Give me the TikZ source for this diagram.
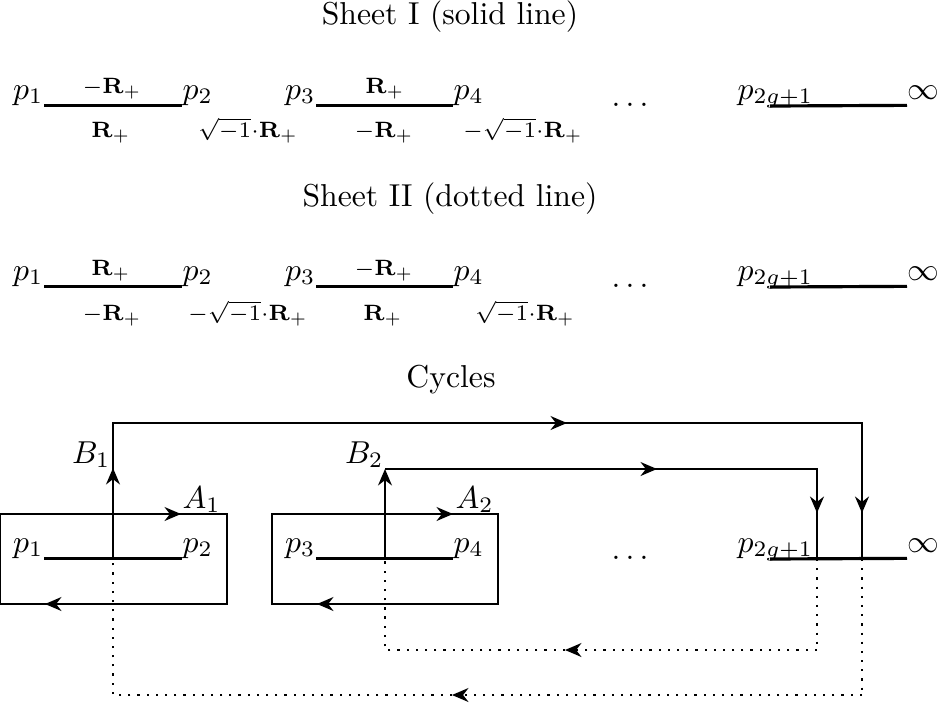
\documentclass[tikz,border=0pt]{standalone}
\usetikzlibrary{arrows.meta}

\begin{document}
\begin{tikzpicture}[
			x=0.0111cm, y=-0.0111cm,
			pt/.style={inner sep=0pt},
			lab/.style={inner sep=0pt, anchor=base},
			cut/.style={line width=1pt},
			cyc/.style={line width=0.65pt},
			tip/.style={-{Stealth[length=5.2pt, width=4.4pt, inset=1.7pt]}},
			arr/.style={cyc, tip},
			boxline/.style={line width=0.5pt},
			back/.style={cyc, dash pattern=on 0.7pt off 2.2pt}
		]
			\useasboundingbox (0,0) rectangle (941,707);

			% titles
			\node[lab] (sheetI) at (450,24) {Sheet I (solid line)};
			\node[lab] (sheetII) at (450,206) {Sheet II (dotted line)};
			\node[lab] (cycles) at (451,387) {Cycles};

			% branch points and cuts, one row per picture
			\foreach \r/\y in {I/106, II/287, C/559} {
				\node[pt, anchor=base east] (p1\r) at (44,\y-7) {$p_1$};
				\node[pt, anchor=base west] (p2\r) at (182,\y-7) {$p_2$};
				\node[pt, anchor=base east] (p3\r) at (316,\y-7) {$p_3$};
				\node[pt, anchor=base west] (p4\r) at (453,\y-7) {$p_4$};
				\node[lab] (dots\r) at (630,\y) {$\ldots$};
				\node[pt, anchor=base west] (pg\r) at (737,\y-7) {$p_{2g+1}$};
				\node[pt, anchor=base west] (inf\r) at (907,\y-7) {$\infty$};
				\coordinate (g\r) at (770,\y);
				\draw[cut] ([yshift=-2pt]p1\r.base east) -- ([yshift=-2pt]p2\r.base west);
				\draw[cut] ([yshift=-2pt]p3\r.base east) -- ([yshift=-2pt]p4\r.base west);
				\draw[cut] (g\r) -- ([yshift=-2pt]inf\r.base west);
			}

			% sheet I labels
			\node[lab] (uI1) at (112,93) {$\scriptstyle -\mathbf{R}_+$};
			\node[lab] (dI1) at (111,137) {$\scriptstyle \mathbf{R}_+$};
			\node[lab] (dI2) at (248,137) {$\scriptstyle \sqrt{-1}\cdot\mathbf{R}_+$};
			\node[lab] (uI3) at (385,93) {$\scriptstyle \mathbf{R}_+$};
			\node[lab] (dI3) at (384,137) {$\scriptstyle -\mathbf{R}_+$};
			\node[lab] (dI4) at (523,137) {$\scriptstyle -\sqrt{-1}\cdot\mathbf{R}_+$};

			% sheet II labels
			\node[lab] (uII1) at (111,275) {$\scriptstyle \mathbf{R}_+$};
			\node[lab] (dII1) at (112,320) {$\scriptstyle -\mathbf{R}_+$};
			\node[lab] (dII2) at (248,320) {$\scriptstyle -\sqrt{-1}\cdot\mathbf{R}_+$};
			\node[lab] (uII3) at (384,275) {$\scriptstyle -\mathbf{R}_+$};
			\node[lab] (dII3) at (383,320) {$\scriptstyle \mathbf{R}_+$};
			\node[lab] (dII4) at (525,320) {$\scriptstyle \sqrt{-1}\cdot\mathbf{R}_+$};

			% cycles: corners and crossings
			\coordinate (c1) at (113,559);
			\coordinate (c2) at (385,559);
			\coordinate (c3) at (817,559);
			\coordinate (c4) at (862,559);
			\coordinate (b1top) at (113,423);
			\coordinate (b1end) at (862,423);
			\coordinate (b2top) at (385,469);
			\coordinate (b2end) at (817,469);
			\coordinate (d1) at (113,695);
			\coordinate (d4) at (862,695);
			\coordinate (d2) at (385,650);
			\coordinate (d3) at (817,650);

			% A-cycles
			\coordinate (k1nw) at (0.5,514);
			\coordinate (k1se) at (227,604);
			\coordinate (k2nw) at (272,514);
			\coordinate (k2se) at (498,604);
			\draw[boxline] (k1nw) rectangle (k1se);
			\draw[boxline] (k2nw) rectangle (k2se);
			\draw[arr] (k1nw) -- (181,514);
			\draw[arr] (k1se) -- (45,604);
			\draw[arr] (k2nw) -- (453,514);
			\draw[arr] (k2se) -- (317,604);
			\node[pt, anchor=base west] (A1) at (182,508) {$A_1$};
			\node[pt, anchor=base west] (A2) at (455,508) {$A_2$};

			% B-cycles on sheet I
			\draw[cyc] (c1) |- (b1end) -- (c4);
			\draw[arr] (c1) -- (113,468);
			\draw[arr] (b1top) -- (567,423);
			\draw[arr] (b1end) -- (862,513);
			\draw[arr] (c2) -- (b2top);
			\draw[cyc] (b2top) -- (b2end) -- (c3);
			\draw[arr] (b2top) -- (657,469);
			\draw[arr] (b2end) -- (817,513);
			\node[pt, anchor=base east] (B1) at (111,463) {$B_1$};
			\node[pt, anchor=base east] (B2) at (384,463) {$B_2$};

			% B-cycles on sheet II
			\draw[back] (c4) -- (d4);
			\draw[back, tip] (d4) -- (452,695);
			\draw[back] (452,695) -- (d1) -- (c1);
			\draw[back] (c3) -- (d3);
			\draw[back, tip] (d3) -- (565,650);
			\draw[back] (565,650) -- (d2) -- (c2);
		\end{tikzpicture}
\end{document}
